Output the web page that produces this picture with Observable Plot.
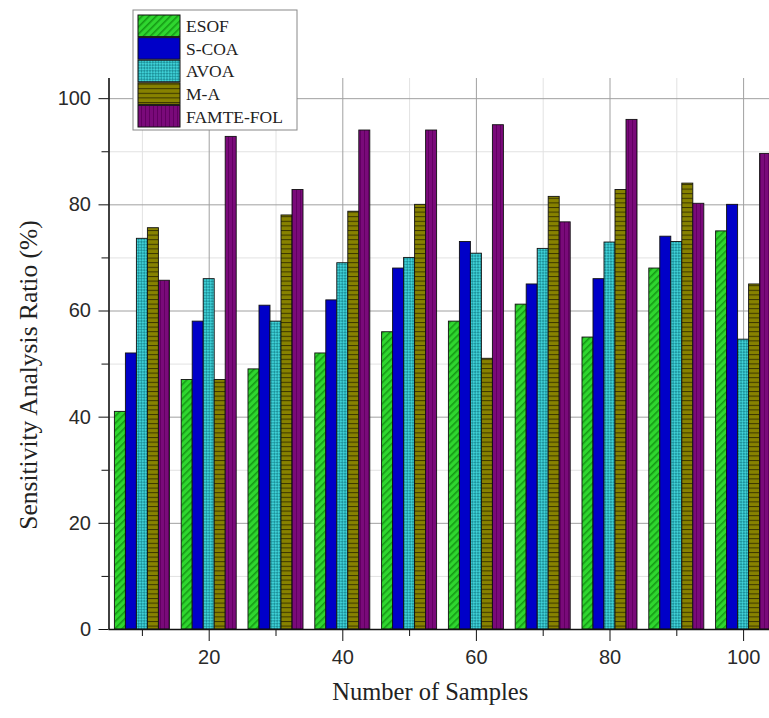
<!DOCTYPE html>
<html>
<head>
<meta charset="utf-8">
<script src="https://cdn.jsdelivr.net/npm/d3@7"></script>
<script src="https://cdn.jsdelivr.net/npm/@observablehq/plot@0.6"></script>
<style>
  html, body { margin: 0; padding: 0; background: #fff; overflow: hidden; }
  #chart { position: relative; width: 769px; height: 718px; overflow: hidden; }
  #chart svg { overflow: hidden; }
</style>
</head>
<body>
<svg width="0" height="0" style="position:absolute">
  <defs>
    <pattern id="pat-ESOF" width="5" height="5" patternUnits="userSpaceOnUse" patternTransform="rotate(45)">
      <rect width="5" height="5" fill="#2fd62f"></rect>
      <line x1="0.8" y1="0" x2="0.8" y2="5" stroke="#159a15" stroke-width="1.6"></line>
    </pattern>
    <pattern id="pat-SCOA" width="4" height="4" patternUnits="userSpaceOnUse">
      <rect width="4" height="4" fill="#0000c8"></rect>
    </pattern>
    <pattern id="pat-AVOA" width="4" height="4" patternUnits="userSpaceOnUse" patternTransform="rotate(45)">
      <rect width="4" height="4" fill="#3fd0d6"></rect>
      <rect width="2" height="2" fill="#1e939c"></rect>
      <rect x="2" y="2" width="2" height="2" fill="#1e939c"></rect>
    </pattern>
    <pattern id="pat-MA" width="4" height="4.6" patternUnits="userSpaceOnUse">
      <rect width="4" height="4.6" fill="#878200"></rect>
      <line x1="0" y1="0.5" x2="4" y2="0.5" stroke="#3a3600" stroke-width="1"></line>
    </pattern>
    <pattern id="pat-FAMTE" width="4" height="4" patternUnits="userSpaceOnUse">
      <rect width="4" height="4" fill="#7a0a7a"></rect>
      <line x1="0.5" y1="0" x2="0.5" y2="4" stroke="#610061" stroke-width="1"></line>
    </pattern>
  </defs>
</svg>
<div id="chart"></div>
<script>
// ---- data ----
const samples = [10, 20, 30, 40, 50, 60, 70, 80, 90, 100];
const seriesNames = ["ESOF", "S-COA", "AVOA", "M-A", "FAMTE-FOL"];
const esof  = [41, 47, 49, 52, 56, 58, 61.2, 55, 68, 75];
const scoa  = [52, 58, 61, 62, 68, 73, 65, 66, 74, 80];
const avoa  = [73.6, 66, 58, 69, 70, 70.8, 71.7, 72.9, 73, 54.6];
const ma    = [75.6, 47, 78, 78.7, 80, 51, 81.5, 82.8, 84, 65];
const famte = [65.7, 92.8, 82.8, 94, 94, 95, 76.7, 96, 80.2, 89.6];
const xMajorTicks = [20, 40, 60, 80, 100];
const xMinorTicks = [10, 30, 50, 70, 90];
const yMajorTicks = [0, 20, 40, 60, 80, 100];
const yMinorTicks = [10, 30, 50, 70, 90];

const seriesValues = [esof, scoa, avoa, ma, famte];
const fills = ["url(#pat-ESOF)", "url(#pat-SCOA)", "url(#pat-AVOA)", "url(#pat-MA)", "url(#pat-FAMTE)"];

const barW = 1.647; // width of one bar in x units
const tables = seriesValues.map((vals, i) =>
  samples.map((s, j) => ({
    series: seriesNames[i],
    x1: s + (i - 2.5) * barW,
    x2: s + (i - 1.5) * barW,
    value: vals[j]
  }))
);

const W = 769, H = 718;
const plot = Plot.plot({
  width: W,
  height: H,
  marginLeft: 108.5,
  marginRight: 0,
  marginTop: 78,
  marginBottom: 89,
  style: { fontFamily: "'Liberation Sans', Arial, sans-serif", background: "#fff" },
  x: { domain: [5, 105], range: [108.5, 776.5] },
  y: { domain: [0, 103.8], range: [629, 78] },
  marks: [
    Plot.gridX(xMinorTicks, { stroke: "#e2e2e2", strokeOpacity: 1, strokeWidth: 1 }),
    Plot.gridY(yMinorTicks, { stroke: "#e2e2e2", strokeOpacity: 1, strokeWidth: 1 }),
    Plot.gridX(xMajorTicks, { stroke: "#a0a0a0", strokeOpacity: 1, strokeWidth: 1 }),
    Plot.gridY(yMajorTicks.filter(d => d > 0), { stroke: "#a0a0a0", strokeOpacity: 1, strokeWidth: 1 }),
    ...tables.map((t, i) =>
      Plot.rectY(t, { x1: "x1", x2: "x2", y1: 0, y2: "value", fill: fills[i], stroke: "#111", strokeWidth: 0.9 })
    ),
    Plot.axisY(yMajorTicks, { tickSize: 10, tickPadding: 8, fontSize: 20, color: "#2a2a2a", stroke: "#111", label: null }),
    Plot.axisY(yMinorTicks, { tickSize: 7, text: null, stroke: "#111", label: null }),
    Plot.axisX(xMajorTicks, { tickSize: 12, tickPadding: 8, fontSize: 20, color: "#2a2a2a", stroke: "#111", label: null }),
    Plot.axisX(xMinorTicks, { tickSize: 7, text: null, stroke: "#111", label: null }),
    Plot.ruleX([5], { stroke: "#111", strokeWidth: 1.6 }),
    Plot.ruleY([0], { stroke: "#111", strokeWidth: 1.6 }),
    Plot.text(["Number of Samples"], {
      frameAnchor: "bottom", dy: 70, dx: -9, fontSize: 24.5, textAnchor: "middle",
      fontFamily: "'Liberation Serif', 'Times New Roman', serif", fill: "#222"
    }),
    Plot.text(["Sensitivity Analysis Ratio (%)"], {
      frameAnchor: "left", dx: -80, dy: 21, rotate: -90, fontSize: 25.5, textAnchor: "middle",
      fontFamily: "'Liberation Serif', 'Times New Roman', serif", fill: "#222"
    })
  ]
});

document.getElementById("chart").appendChild(plot);

// ---- legend (inside the svg, top-left) ----
const svg = d3.select(plot);
const lg = svg.append("g").attr("transform", "translate(133,10)");
lg.append("rect").attr("width", 164).attr("height", 120).attr("fill", "#fff").attr("stroke", "#888").attr("stroke-width", 1);
seriesNames.forEach((name, i) => {
  const y = 5 + i * 22.6;
  lg.append("rect").attr("x", 5).attr("y", y).attr("width", 42).attr("height", 21.6)
    .attr("fill", fills[i]).attr("stroke", "#111").attr("stroke-width", 1);
  lg.append("text").attr("x", 53).attr("y", y + 11).attr("dy", "0.35em")
    .attr("text-anchor", "start")
    .attr("font-family", "'Liberation Serif', 'Times New Roman', serif")
    .attr("font-size", 17.5).attr("fill", "#222").text(name);
});
</script>
</body>
</html>
